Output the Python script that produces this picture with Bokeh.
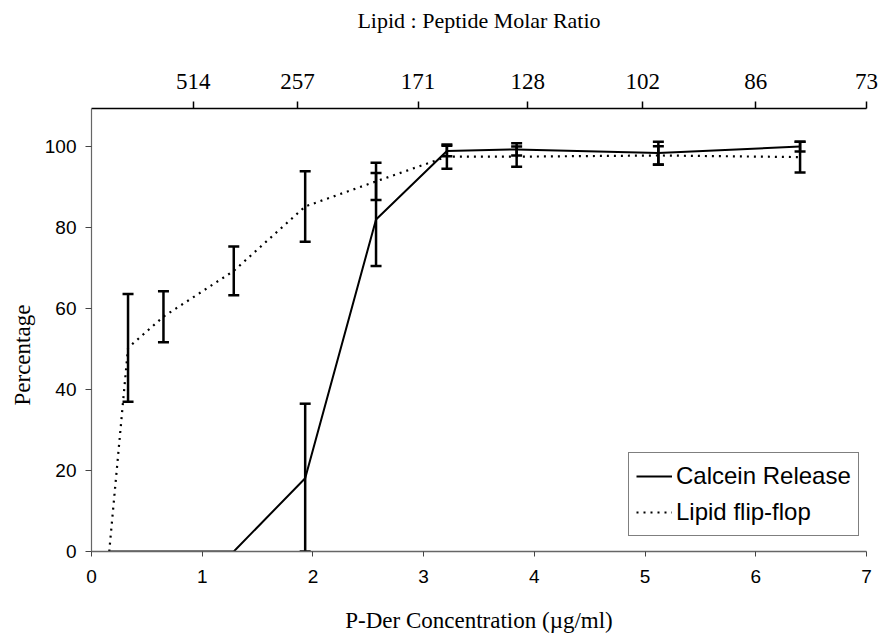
from bokeh.plotting import figure
from bokeh.models import (ColumnDataSource, LinearAxis, FixedTicker, Whisker, TeeHead,
                          Legend, LegendItem, Range1d, Title)
from bokeh.embed import file_html
from bokeh.resources import INLINE

# ---- data ----
conc = [0.16, 0.33, 0.65, 1.285, 1.93, 2.57, 3.21, 3.84, 5.12, 6.40]
flipflop = [0.0, 50.3, 58.0, 69.3, 85.2, 91.4, 97.5, 97.5, 97.8, 97.4]
flipflop_err = [0.0, 13.3, 6.3, 6.0, 8.7, 4.6, 3.0, 2.5, 2.3, 3.8]
calcein = [0.0, 0.0, 0.0, 0.0, 18.1, 82.0, 98.9, 99.3, 98.4, 100.0]
calcein_err = [0.0, 0.0, 0.0, 0.0, 18.4, 11.5, 1.3, 1.5, 2.8, 1.2]

ratio_labels = ["514", "257", "171", "128", "102", "86", "73"]
ratio_pos = [0.92, 1.86, 2.95, 3.94, 4.98, 6.0, 7.0]

x_ticks = [0, 1, 2, 3, 4, 5, 6, 7]
y_ticks = [0, 20, 40, 60, 80, 100]

SERIF = "Liberation Serif"
SANS = "Liberation Sans"

p = figure(width=883, height=644, output_backend="svg", toolbar_location=None,
           x_range=Range1d(0, 7), y_range=Range1d(0, 109.4),
           min_border_left=91, min_border_right=17, min_border_top=108, min_border_bottom=93)
p.grid.visible = False
p.outline_line_color = None
p.background_fill_color = "white"
p.border_fill_color = "white"

# bottom axis
xa = p.xaxis[0]
xa.ticker = FixedTicker(ticks=x_ticks)
xa.axis_line_color = "#666666"
xa.axis_line_width = 1.5
xa.major_tick_line_color = "#444444"
xa.major_tick_in = 0
xa.major_tick_out = 5
xa.minor_tick_line_color = None
xa.major_label_text_font = SANS
xa.major_label_text_font_size = "19px"
xa.major_label_text_color = "black"
xa.major_label_standoff = 13
xa.axis_label = "P-Der Concentration (\u00b5g/ml)"
xa.axis_label_text_font = SERIF
xa.axis_label_text_font_size = "23px"
xa.axis_label_text_font_style = "normal"
xa.axis_label_text_color = "black"
xa.axis_label_standoff = 22

# left axis
ya = p.yaxis[0]
ya.ticker = FixedTicker(ticks=y_ticks)
ya.axis_line_color = "#666666"
ya.axis_line_width = 1.2
ya.major_tick_line_color = "#444444"
ya.major_tick_in = 0
ya.major_tick_out = 6
ya.minor_tick_line_color = None
ya.major_label_text_font = SANS
ya.major_label_text_font_size = "19px"
ya.major_label_text_color = "black"
ya.major_label_standoff = 9

# y title, placed a little below the frame centre as in the reference
ytitle = Title(text="Percentage", align="left", offset=146, standoff=14,
               text_font=SERIF, text_font_size="23px", text_font_style="normal",
               text_color="black")
p.add_layout(ytitle, "left")

# top axis: lipid:peptide molar ratio
ta = LinearAxis(ticker=FixedTicker(ticks=ratio_pos),
                major_label_overrides={pos: lab for pos, lab in zip(ratio_pos, ratio_labels)})
ta.axis_line_color = "black"
ta.axis_line_width = 1.5
ta.major_tick_line_color = "black"
ta.major_tick_line_width = 1.5
ta.major_tick_in = 0
ta.major_tick_out = 7
ta.minor_tick_line_color = None
ta.major_label_text_font = SERIF
ta.major_label_text_font_size = "23px"
ta.major_label_text_color = "black"
ta.major_label_standoff = 13
ta.axis_label = "Lipid : Peptide Molar Ratio"
ta.axis_label_text_font = SERIF
ta.axis_label_text_font_size = "22px"
ta.axis_label_text_font_style = "normal"
ta.axis_label_text_color = "black"
ta.axis_label_standoff = 38
p.add_layout(ta, "above")

# series
src_f = ColumnDataSource(dict(x=conc, y=flipflop,
                              lo=[v - e for v, e in zip(flipflop, flipflop_err)],
                              hi=[v + e for v, e in zip(flipflop, flipflop_err)]))
src_c = ColumnDataSource(dict(x=conc, y=calcein,
                              lo=[max(0.0, v - e) for v, e in zip(calcein, calcein_err)],
                              hi=[v + e for v, e in zip(calcein, calcein_err)]))

r_c = p.line("x", "y", source=src_c, line_color="black", line_width=2)
r_f = p.line("x", "y", source=src_f, line_color="black", line_width=2.2, line_dash="2 5")

for src, errs in ((src_f, flipflop_err), (src_c, calcein_err)):
    keep = [i for i, e in enumerate(errs) if e > 0]
    sub = ColumnDataSource(dict(x=[src.data["x"][i] for i in keep],
                                lo=[src.data["lo"][i] for i in keep],
                                hi=[src.data["hi"][i] for i in keep]))
    w = Whisker(source=sub, base="x", lower="lo", upper="hi",
                line_color="black", line_width=2.5,
                upper_head=TeeHead(size=11, line_color="black", line_width=2.5),
                lower_head=TeeHead(size=11, line_color="black", line_width=2.5))
    p.add_layout(w)

legend = Legend(items=[LegendItem(label="Calcein Release", renderers=[r_c]),
                       LegendItem(label="Lipid flip-flop", renderers=[r_f])],
                location=(537, 15))
legend.border_line_color = "black"
legend.border_line_width = 1
legend.background_fill_alpha = 1
legend.label_text_font = SANS
legend.label_text_font_size = "24px"
legend.label_text_color = "black"
legend.glyph_width = 36
legend.glyph_height = 32
legend.label_height = 32
legend.label_standoff = 4
legend.padding = 7
legend.spacing = 4
legend.margin = 0
p.add_layout(legend)

open("out.html", "w").write(file_html(p, INLINE))
